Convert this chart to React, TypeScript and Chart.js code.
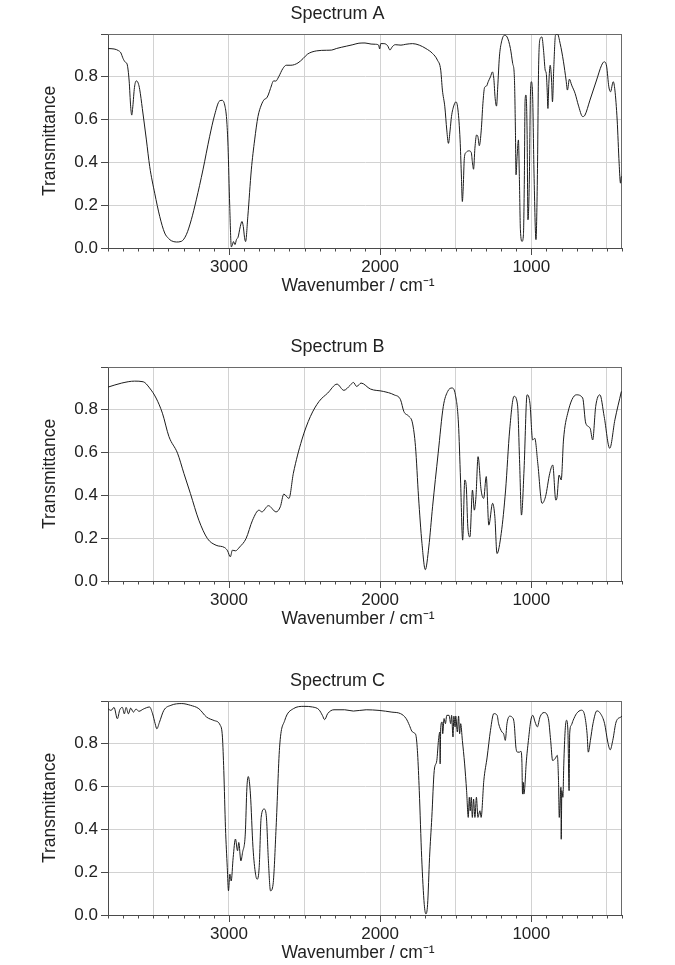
import React, { useEffect, useRef } from "react";
import { Chart, registerables } from "chart.js";

Chart.register(...registerables);

// ---------- Data ----------
const xLabelValues = [3000, 2000, 1000];
const xGridValues = [3500, 3000, 2500, 2000, 1500, 1000, 500];
const yTickLabels = ["0.0", "0.2", "0.4", "0.6", "0.8"];
const chartTitles = ["Spectrum A", "Spectrum B", "Spectrum C"];

const wavenumberA = [
  3800, 3760, 3730, 3715, 3700, 3685, 3674, 3660, 3650, 3643, 3636, 3625, 3613, 3600, 3590, 3573,
  3546, 3524, 3491, 3458, 3425, 3400, 3381, 3348, 3315, 3282, 3249, 3216, 3172, 3128, 3095, 3061,
  3045, 3028, 3015, 3006, 2995, 2984, 2977, 2970, 2960, 2950, 2940, 2925, 2914, 2905, 2897, 2890,
  2875, 2852, 2830, 2808, 2786, 2765, 2753, 2740, 2725, 2704, 2690, 2671, 2643, 2621, 2590, 2543,
  2510, 2480, 2422, 2356, 2320, 2290, 2224, 2180, 2140, 2100, 2060, 2030, 2010, 2003, 1996, 1975,
  1950, 1935, 1920, 1900, 1862, 1830, 1785, 1741, 1697, 1653, 1621, 1599, 1588, 1572, 1559, 1548,
  1537, 1528, 1511, 1498, 1485, 1471, 1463, 1456, 1450, 1443, 1432, 1412, 1397, 1390, 1382, 1373,
  1362, 1353, 1344, 1331, 1320, 1309, 1296, 1285, 1270, 1257, 1248, 1239, 1230, 1222, 1211, 1197,
  1178, 1160, 1138, 1123, 1112, 1105, 1101, 1094, 1085, 1079, 1072, 1061, 1052, 1046, 1041, 1035,
  1028, 1022, 1013, 1006, 1000, 991, 982, 969, 960, 952, 941, 930, 919, 908, 901, 895,
  890, 884, 875, 866, 860, 851, 840, 827, 809, 787, 770, 761, 748, 733, 710, 689,
  660, 645, 612, 568, 535, 518, 502, 487, 476, 458, 447, 432, 419, 410, 404, 400,
];
const transmittanceA = [
  0.932, 0.93, 0.922, 0.912, 0.885, 0.868, 0.86, 0.78, 0.66, 0.621, 0.66, 0.75, 0.781, 0.77, 0.74, 0.652,
  0.505, 0.38, 0.256, 0.148, 0.07, 0.045, 0.034, 0.028, 0.031, 0.062, 0.132, 0.225, 0.365, 0.52, 0.621, 0.688,
  0.69, 0.668, 0.6, 0.474, 0.2, 0.005, 0.015, 0.03, 0.016, 0.04, 0.05, 0.1, 0.124, 0.1, 0.05, 0.03,
  0.148, 0.365, 0.505, 0.614, 0.668, 0.695, 0.699, 0.715, 0.746, 0.781, 0.78, 0.8, 0.839, 0.854, 0.854, 0.865,
  0.885, 0.906, 0.921, 0.924, 0.925, 0.932, 0.943, 0.95, 0.957, 0.958, 0.953, 0.952, 0.948, 0.93, 0.955, 0.955,
  0.945, 0.925, 0.94, 0.95, 0.948, 0.952, 0.955, 0.948, 0.932, 0.909, 0.878, 0.831, 0.738, 0.66, 0.551, 0.489,
  0.551, 0.614, 0.668, 0.683, 0.645, 0.505, 0.35, 0.217, 0.287, 0.419, 0.446, 0.454, 0.446, 0.404, 0.368, 0.466,
  0.528, 0.52, 0.478, 0.551, 0.676, 0.75, 0.757, 0.777, 0.8, 0.823, 0.792, 0.699, 0.663, 0.753, 0.893, 0.963,
  0.994, 0.986, 0.932, 0.862, 0.8, 0.551, 0.342, 0.427, 0.505, 0.334, 0.085, 0.031, 0.062, 0.318, 0.691, 0.715,
  0.551, 0.132, 0.318, 0.707, 0.777, 0.707, 0.35, 0.039, 0.318, 0.831, 0.979, 0.986, 0.924, 0.831, 0.816, 0.738,
  0.652, 0.769, 0.854, 0.785, 0.683, 0.847, 0.994, 1.0, 0.955, 0.87, 0.785, 0.738, 0.789, 0.761, 0.722, 0.668,
  0.614, 0.621, 0.691, 0.785, 0.854, 0.87, 0.85, 0.753, 0.73, 0.777, 0.738, 0.598, 0.396, 0.303, 0.334, 0.33,
];

const wavenumberB = [
  3800, 3709, 3624, 3567, 3525, 3482, 3440, 3397, 3340, 3298, 3255, 3199, 3142, 3085, 3028, 3009,
  2991, 2977, 2957, 2929, 2887, 2844, 2801, 2782, 2739, 2688, 2660, 2637, 2603, 2574, 2518, 2461,
  2404, 2347, 2285, 2240, 2200, 2177, 2155, 2126, 2064, 1979, 1908, 1865, 1843, 1809, 1786, 1766,
  1746, 1723, 1701, 1678, 1653, 1616, 1582, 1553, 1525, 1502, 1482, 1468, 1454, 1440, 1430, 1420,
  1406, 1389, 1377, 1366, 1352, 1332, 1315, 1298, 1281, 1256, 1241, 1227, 1199, 1170, 1143, 1114,
  1091, 1077, 1065, 1048, 1028, 1009, 991, 977, 957, 929, 906, 878, 858, 838, 830, 816,
  802, 787, 759, 702, 660, 640, 611, 594, 574, 546, 518, 481, 447, 404,
];
const transmittanceB = [
  0.906, 0.925, 0.934, 0.931, 0.902, 0.855, 0.784, 0.675, 0.597, 0.503, 0.409, 0.284, 0.198, 0.167, 0.156, 0.141,
  0.113, 0.144, 0.141, 0.159, 0.198, 0.284, 0.331, 0.323, 0.352, 0.323, 0.347, 0.406, 0.386, 0.503, 0.659, 0.769,
  0.839, 0.878, 0.92, 0.891, 0.913, 0.928, 0.909, 0.925, 0.897, 0.886, 0.87, 0.847, 0.792, 0.769, 0.738, 0.628,
  0.394, 0.175, 0.053, 0.159, 0.347, 0.597, 0.816, 0.886, 0.902, 0.87, 0.738, 0.472, 0.191, 0.472, 0.441, 0.253,
  0.206, 0.425, 0.331, 0.394, 0.581, 0.425, 0.386, 0.488, 0.261, 0.363, 0.3, 0.128, 0.222, 0.425, 0.706, 0.863,
  0.823, 0.55, 0.308, 0.519, 0.87, 0.831, 0.659, 0.667, 0.55, 0.363, 0.394, 0.503, 0.542, 0.378, 0.39, 0.495,
  0.472, 0.659, 0.784, 0.87, 0.855, 0.738, 0.714, 0.659, 0.816, 0.87, 0.769, 0.62, 0.753, 0.886,
];

const wavenumberC = [
  3800, 3780, 3760, 3738, 3722, 3705, 3692, 3680, 3665, 3650, 3632, 3615, 3595, 3567, 3525, 3505,
  3488, 3477, 3460, 3431, 3383, 3312, 3255, 3199, 3148, 3099, 3057, 3043, 3034, 3023, 3011, 3003,
  2994, 2985, 2972, 2957, 2943, 2935, 2921, 2910, 2892, 2881, 2872, 2858, 2841, 2824, 2813, 2800,
  2787, 2767, 2753, 2739, 2725, 2708, 2688, 2665, 2631, 2574, 2504, 2447, 2404, 2382, 2367, 2347,
  2305, 2234, 2177, 2092, 2007, 1922, 1865, 1828, 1806, 1791, 1773, 1763, 1752, 1741, 1725, 1708,
  1697, 1686, 1673, 1658, 1642, 1625, 1614, 1605, 1603, 1599, 1590, 1586, 1577, 1568, 1559, 1544,
  1533, 1527, 1518, 1512, 1504, 1500, 1489, 1481, 1474, 1467, 1456, 1441, 1428, 1417, 1410, 1404,
  1397, 1390, 1382, 1373, 1363, 1353, 1340, 1332, 1314, 1292, 1270, 1248, 1226, 1216, 1194, 1183,
  1172, 1161, 1143, 1128, 1113, 1102, 1091, 1078, 1069, 1062, 1058, 1053, 1049, 1043, 1034, 1019,
  1003, 990, 975, 960, 942, 916, 887, 872, 859, 843, 828, 820, 815, 809, 804, 802,
  798, 791, 785, 776, 767, 758, 750, 746, 736, 723, 701, 668, 647, 631, 623, 609,
  592, 566, 542, 515, 494, 478, 461, 439, 406, 400,
];
const transmittanceC = [
  0.964, 0.956, 0.97, 0.917, 0.959, 0.97, 0.94, 0.97, 0.94, 0.967, 0.948, 0.962, 0.952, 0.962, 0.972, 0.94,
  0.894, 0.87, 0.9, 0.956, 0.98, 0.988, 0.98, 0.964, 0.925, 0.909, 0.886, 0.831, 0.675, 0.409, 0.222, 0.113,
  0.191, 0.159, 0.269, 0.355, 0.3, 0.339, 0.253, 0.292, 0.378, 0.597, 0.647, 0.566, 0.316, 0.191, 0.167, 0.222,
  0.456, 0.495, 0.464, 0.253, 0.113, 0.144, 0.409, 0.784, 0.909, 0.964, 0.975, 0.972, 0.959, 0.933, 0.913, 0.941,
  0.959, 0.959, 0.953, 0.959, 0.956, 0.948, 0.941, 0.918, 0.886, 0.86, 0.85, 0.839, 0.753, 0.581, 0.268, 0.049,
  0.005, 0.049, 0.268, 0.456, 0.675, 0.722, 0.816, 0.855, 0.706, 0.879, 0.902, 0.847, 0.918, 0.894, 0.933, 0.933,
  0.894, 0.933, 0.832, 0.929, 0.879, 0.93, 0.855, 0.93, 0.847, 0.894, 0.816, 0.706, 0.581, 0.456, 0.55, 0.487,
  0.55, 0.456, 0.542, 0.456, 0.55, 0.456, 0.487, 0.456, 0.628, 0.738, 0.863, 0.941, 0.933, 0.894, 0.855, 0.847,
  0.816, 0.894, 0.929, 0.925, 0.894, 0.785, 0.761, 0.761, 0.765, 0.714, 0.565, 0.62, 0.565, 0.597, 0.706, 0.816,
  0.91, 0.933, 0.902, 0.879, 0.926, 0.946, 0.918, 0.816, 0.722, 0.73, 0.746, 0.628, 0.456, 0.534, 0.597, 0.354,
  0.581, 0.55, 0.706, 0.863, 0.91, 0.863, 0.581, 0.847, 0.886, 0.91, 0.941, 0.957, 0.933, 0.847, 0.761, 0.816,
  0.894, 0.954, 0.941, 0.894, 0.808, 0.772, 0.816, 0.902, 0.926, 0.93,
];

const spectra = [
  { wn: wavenumberA, tr: transmittanceA },
  { wn: wavenumberB, tr: transmittanceB },
  { wn: wavenumberC, tr: transmittanceC },
];

// ---------- Styling ----------
const FONT = "'Liberation Sans', Arial, Helvetica, sans-serif";
const TEXT = "#222222";
const GRID = "#d2d2d2";
const AXIS = "#4a4a4a";
const CANVAS_W = 675;
const CANVAS_H = 333;
const TICK_SIZE = 17;
const AXIS_TITLE_SIZE = 17.5;
const TITLE_SIZE = 18;

Chart.defaults.font.family = FONT;
Chart.defaults.font.size = TICK_SIZE;
Chart.defaults.color = TEXT;

const framePlugin = (title: string) => ({
  id: "frameAndTicks",
  beforeDatasetsDraw(chart: any) {
    const { ctx, chartArea } = chart;
    const xs = chart.scales.x;
    ctx.save();
    // top and right frame
    ctx.strokeStyle = "#6a6a6a";
    ctx.lineWidth = 1;
    ctx.beginPath();
    ctx.moveTo(chartArea.left, chartArea.top + 0.5);
    ctx.lineTo(chartArea.right, chartArea.top + 0.5);
    ctx.moveTo(chartArea.right - 0.5, chartArea.top);
    ctx.lineTo(chartArea.right - 0.5, chartArea.bottom);
    ctx.stroke();
    // x minor / major tick marks every 100 cm-1
    ctx.strokeStyle = AXIS;
    ctx.beginPath();
    for (let v = xs.min; v <= xs.max; v += 100) {
      const px = Math.round(xs.getPixelForValue(v)) + 0.5;
      const len = v % 1000 === 0 ? 7 : 3.5;
      ctx.moveTo(px, chartArea.bottom);
      ctx.lineTo(px, chartArea.bottom + len);
    }
    ctx.stroke();
    // titles
    ctx.fillStyle = TEXT;
    ctx.textAlign = "center";
    ctx.textBaseline = "middle";
    ctx.font = `${TITLE_SIZE}px ${FONT}`;
    ctx.fillText(title, CANVAS_W / 2, 14);
    ctx.font = `${AXIS_TITLE_SIZE}px ${FONT}`;
    ctx.fillText("Wavenumber / cm\u207B\u00B9", (chartArea.left + chartArea.right) / 2 - 7, 286);
    ctx.restore();
  },
});

function Spectrum({ index, top }: { index: number; top: number }) {
  const ref = useRef<HTMLCanvasElement | null>(null);
  useEffect(() => {
    const canvas = ref.current;
    if (!canvas) return;
    const { wn, tr } = spectra[index];
    const chart = new Chart(canvas, {
      type: "line",
      data: {
        datasets: [
          {
            data: wn.map((x, i) => ({ x, y: tr[i] })),
            borderColor: "#1c1c1c",
            borderWidth: 1,
            pointRadius: 0,
            fill: false,
            cubicInterpolationMode: "monotone",
          },
        ],
      },
      options: {
        responsive: false,
        animation: false,
        events: [],
        layout: { padding: { top: 34, right: 53, left: 0, bottom: 0 } },
        plugins: {
          legend: { display: false },
          tooltip: { enabled: false },
          title: { display: false },
        },
        scales: {
          x: {
            type: "linear",
            reverse: true,
            min: 400,
            max: 3800,
            afterBuildTicks: (s: any) => {
              s.ticks = xGridValues.map((v) => ({ value: v }));
            },
            afterFit: (s: any) => {
              s.height = 85;
            },
            ticks: {
              autoSkip: false,
              maxRotation: 0,
              minRotation: 0,
              padding: 9,
              color: TEXT,
              font: { size: TICK_SIZE, family: FONT },
              callback: (v: any) => (xLabelValues.includes(Number(v)) ? String(v) : ""),
            },
            grid: {
              drawTicks: false,
              color: GRID,
              lineWidth: 1,
            },
            border: { display: true, color: AXIS, width: 1 },
            title: { display: false },
          },
          y: {
            min: 0,
            max: 1,
            afterFit: (s: any) => {
              s.width = 108;
            },
            ticks: {
              stepSize: 0.2,
              padding: 3,
              color: TEXT,
              font: { size: TICK_SIZE, family: FONT },
              callback: (v: any) => {
                const k = Math.round(Number(v) * 5);
                return k < yTickLabels.length ? yTickLabels[k] : "";
              },
            },
            grid: {
              color: (c: any) => (c.tick && c.tick.value > 0.001 && c.tick.value < 0.999 ? GRID : "rgba(0,0,0,0)"),
              drawTicks: true,
              tickLength: 7,
              tickColor: AXIS,
            },
            border: { display: true, color: AXIS, width: 1 },
            title: {
              display: true,
              text: "Transmittance",
              color: TEXT,
              font: { size: AXIS_TITLE_SIZE, family: FONT },
              padding: { top: 40, bottom: 0 },
            },
          },
        },
      },
      plugins: [framePlugin(chartTitles[index])],
    } as any);
    return () => chart.destroy();
  }, [index]);
  return (
    <canvas
      ref={ref}
      width={CANVAS_W}
      height={CANVAS_H}
      style={{ position: "absolute", left: 0, top, width: CANVAS_W, height: CANVAS_H, display: "block" }}
    />
  );
}

export default function App() {
  return (
    <div
      style={{
        position: "fixed",
        left: 0,
        top: 0,
        width: 675,
        height: 965,
        overflow: "hidden",
        background: "#ffffff",
      }}
    >
      <Spectrum index={0} top={0} />
      <Spectrum index={1} top={333} />
      <Spectrum index={2} top={667} />
    </div>
  );
}
